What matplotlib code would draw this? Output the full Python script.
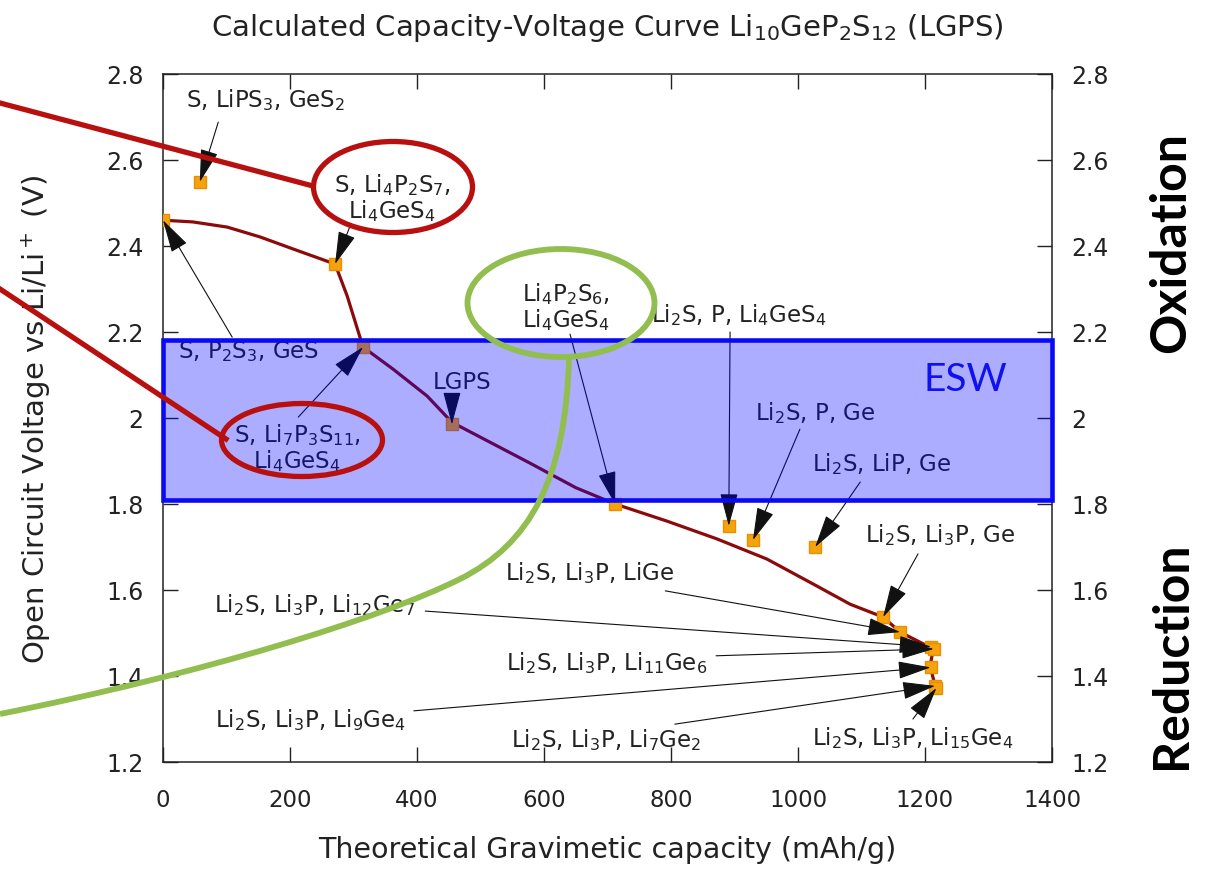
import numpy as np
import matplotlib
matplotlib.use('Agg')
import matplotlib.pyplot as plt
import matplotlib.transforms as mtransforms
from matplotlib.patches import Rectangle, Ellipse, PathPatch
from matplotlib.path import Path

plt.rcParams['font.family'] = ['DejaVu Sans']
plt.rcParams['mathtext.default'] = 'regular'

# convex-hull voltage profile (mAh/g, V)
curve_cap = [0, 47, 101, 153, 205, 271, 290, 315, 362, 416, 455, 578, 650, 712,
             794, 872, 951, 1030, 1082, 1134, 1161, 1213, 1208, 1216]
curve_ocv = [2.460, 2.456, 2.444, 2.421, 2.393, 2.358, 2.284, 2.165, 2.114, 2.051, 1.990, 1.895, 1.838, 1.800,
             1.760, 1.719, 1.672, 1.609, 1.567, 1.537, 1.502, 1.463, 1.423, 1.377]

# decomposition products at each point
phases = ['S, P$_2$S$_3$, GeS',
          'S, LiPS$_3$, GeS$_2$',
          'S, Li$_4$P$_2$S$_7$,\nLi$_4$GeS$_4$',
          'S, Li$_7$P$_3$S$_{11}$,\nLi$_4$GeS$_4$',
          'LGPS',
          'Li$_4$P$_2$S$_6$,\nLi$_4$GeS$_4$',
          'Li$_2$S, P, Li$_4$GeS$_4$',
          'Li$_2$S, P, Ge',
          'Li$_2$S, LiP, Ge',
          'Li$_2$S, Li$_3$P, Ge',
          'Li$_2$S, Li$_3$P, LiGe',
          'Li$_2$S, Li$_3$P, Li$_{12}$Ge$_7$',
          'Li$_2$S, Li$_3$P, Li$_{11}$Ge$_6$',
          'Li$_2$S, Li$_3$P, Li$_9$Ge$_4$',
          'Li$_2$S, Li$_3$P, Li$_7$Ge$_2$',
          'Li$_2$S, Li$_3$P, Li$_{15}$Ge$_4$']
cap = [0, 58, 271, 315, 455, 712, 891, 929, 1027, 1134, 1161, 1210, 1214, 1209, 1216, 1218]
ocv = [2.460, 2.549, 2.358, 2.165, 1.985, 1.800, 1.749, 1.716, 1.700, 1.537, 1.502, 1.468, 1.463, 1.420, 1.377, 1.372]

# label centres and arrow tails
label_xy = [(135, 2.156), (161, 2.742), (361, 2.514), (211, 1.933), (471, 2.084),
            (635, 2.260), (907, 2.242), (1027, 2.014), (1131, 1.895), (1224, 1.730),
            (672, 1.642), (238, 1.567), (698, 1.433), (233, 1.300), (698, 1.253), (1181, 1.258)]
tail_xy = [(109, 2.188), (87, 2.688), (294, 2.444), (213, 2.002), (455, 2.051),
           (641, 2.195), (893, 2.200), (1003, 1.974), (1098, 1.851), (1189, 1.684),
           (791, 1.598), (413, 1.551), (871, 1.447), (395, 1.319), (806, 1.288), (1181, 1.300)]

esw_lo, esw_hi = 1.809, 2.181

xticks = [0, 200, 400, 600, 800, 1000, 1200, 1400]
yticks = [1.2, 1.4, 1.6, 1.8, 2.0, 2.2, 2.4, 2.6, 2.8]
ytick_labels = ['1.2', '1.4', '1.6', '1.8', '2', '2.2', '2.4', '2.6', '2.8']

W, H = 1212, 870
fig = plt.figure(figsize=(W / 100, H / 100), dpi=100)
ax = fig.add_axes([163 / W, 1 - 763 / H, (1052 - 163) / W, (763 - 75) / H])

ax.plot(curve_cap, curve_ocv, color='#8b0a0a', lw=2.3, zorder=2)
ax.plot(cap, ocv, ls='none', marker='s', ms=9, color='#f5a20f', mec='#e89000', zorder=3)

for txt, (tx, ty), (ax_, ay), x, y in zip(phases, label_xy, tail_xy, cap, ocv):
    ax.text(tx, ty, txt, ha='center', va='center', fontsize=16.5, color='#222222',
            linespacing=1.0, zorder=4)
    ax.annotate('', xy=(x, y), xytext=(ax_, ay),
                arrowprops=dict(arrowstyle='-|>,head_length=1.3,head_width=0.35',
                                mutation_scale=16, color='#111111', lw=0.8,
                                shrinkA=0, shrinkB=0), zorder=4)

# electrochemical stability window
ax.add_patch(Rectangle((0, esw_lo), 1400, esw_hi - esw_lo, facecolor=(0, 0, 1, 0.32),
                       edgecolor='none', zorder=6, clip_on=False))
ax.add_patch(Rectangle((0, esw_lo), 1400, esw_hi - esw_lo, facecolor='none',
                       edgecolor='#0a0af5', lw=3.3, zorder=7, clip_on=False))
ax.text(1263, 2.09, 'ESW', color='#1010f0', fontsize=28, family='Lato',
        ha='center', va='center', zorder=8)

ax.set_xlim(0, 1400)
ax.set_ylim(1.2, 2.8)
ax.set_xticks(xticks)
ax.set_yticks(yticks)
ax.set_yticklabels(ytick_labels)
ax.tick_params(direction='in', length=11, width=1, top=True, right=True,
               labelright=True, colors='#222222')
ax.tick_params(axis='y', pad=14, labelsize=17)
ax.tick_params(axis='x', pad=19, labelsize=16.5)
for s in ax.spines.values():
    s.set_linewidth(1.1)
    s.set_color('#222222')

ax.set_xlabel('Theoretical Gravimetic capacity (mAh/g)', fontsize=20.5, color='#222222', labelpad=17)
ax.set_ylabel('Open Circuit Voltage vs Li/Li$^+$ (V)', fontsize=21, color='#222222', labelpad=38)
ax.set_title('Calculated Capacity-Voltage Curve Li$_{10}$GeP$_2$S$_{12}$ (LGPS)',
             fontsize=21, color='#222222', pad=28)

fig.text(1171 / W, 1 - 243 / H, 'Oxidation', rotation=90, fontsize=36, fontweight='bold',
         family='Lato', ha='center', va='center')
fig.text(1171 / W, 1 - 655 / H, 'Reduction', rotation=90, fontsize=36, fontweight='bold',
         family='Lato', ha='center', va='center')

# highlight marks, laid out in pixel space
px = mtransforms.Affine2D().scale(1, -1).translate(0, H)
red = '#b80f0f'
green = '#92be50'
for cx, cy, w, h in [(393, 188, 159, 91), (302, 441, 161, 73)]:
    ax.add_patch(Ellipse((cx, cy), w, h, fill=False, edgecolor=red, lw=3.8,
                         transform=px, clip_on=False, zorder=10))
for (x0, y0), (x1, y1) in [((0, 104), (313, 187)), ((0, 290), (226, 440))]:
    ax.plot([x0, x1], [y0, y1], color=red, lw=3.8, transform=px, clip_on=False, zorder=10)

ax.add_patch(Ellipse((561, 304), 187, 108, fill=False, edgecolor=green, lw=4.2,
                     transform=px, clip_on=False, zorder=10))
hook = Path([(569, 358), (566, 480), (530, 545), (460, 580),
             (380, 620), (200, 675), (0, 715)],
            [Path.MOVETO, Path.CURVE4, Path.CURVE4, Path.CURVE4,
             Path.CURVE4, Path.CURVE4, Path.CURVE4])
ax.add_patch(PathPatch(hook, fill=False, edgecolor=green, lw=4.2, transform=px,
                       clip_on=False, zorder=10))

fig.savefig('out.png', dpi=100)
